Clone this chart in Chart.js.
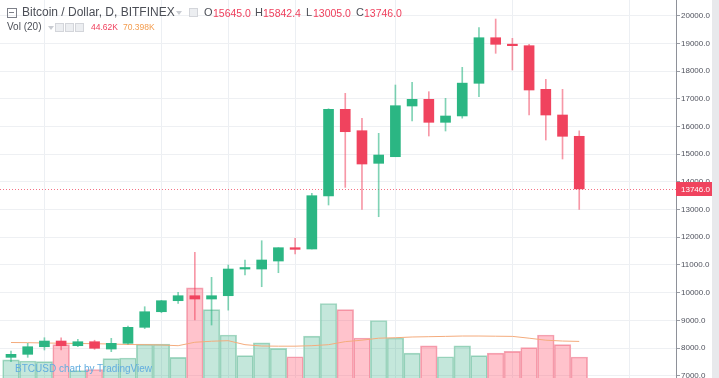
<!DOCTYPE html>
<html><head><meta charset="utf-8">
<script src="https://cdn.jsdelivr.net/npm/chart.js@4.4.1/dist/chart.umd.min.js"></script>
<style>
html,body{margin:0;padding:0;background:#fff;overflow:hidden;width:719px;height:378px}
#wrap{position:relative;width:719px;height:384px}
canvas{display:block}
.t{position:absolute;white-space:nowrap;font-family:"Liberation Sans",Arial,sans-serif;line-height:1}
.ic{position:absolute;width:7px;height:7px;border:1px solid #d3d5da;background:#eceef1}
.car{position:absolute;width:0;height:0;border-left:3px solid transparent;border-right:3px solid transparent;border-top:4px solid #c9ccd2}
</style></head><body>
<div id="wrap">
<canvas id="c" width="719" height="384"></canvas>
<div style="position:absolute;left:712px;top:0;width:7px;height:384px;background:#e8e9ec"></div>
<div style="position:absolute;left:7px;top:8px;width:8px;height:8px;border:1px solid #7d8089"></div>
<div style="position:absolute;left:9px;top:12px;width:5px;height:1px;background:#7d8089"></div>
<div class="t" style="left:22px;top:6px;font-size:12px;color:#4c4f57">Bitcoin / Dollar, D, BITFINEX</div>
<div class="car" style="left:176px;top:11px"></div>
<div class="ic" style="left:189px;top:8px"></div>
<div class="t" style="left:204px;top:7px;font-size:11px;color:#4c4f57">O</div>
<div class="t" id="vO" style="left:213px;top:7.5px;font-size:10.5px;color:#ef3f5c"></div>
<div class="t" style="left:255px;top:7px;font-size:11px;color:#4c4f57">H</div>
<div class="t" id="vH" style="left:263px;top:7.5px;font-size:10.5px;color:#ef3f5c"></div>
<div class="t" style="left:306px;top:7px;font-size:11px;color:#4c4f57">L</div>
<div class="t" id="vL" style="left:313px;top:7.5px;font-size:10.5px;color:#ef3f5c"></div>
<div class="t" style="left:356px;top:7px;font-size:11px;color:#4c4f57">C</div>
<div class="t" id="vC" style="left:364px;top:7.5px;font-size:10.5px;color:#ef3f5c"></div>
<div class="t" style="left:7px;top:22px;font-size:10px;color:#4c4f57">Vol (20)</div>
<div class="car" style="left:48px;top:26px"></div>
<div class="ic" style="left:55px;top:23px"></div>
<div class="ic" style="left:65px;top:23px"></div>
<div class="ic" style="left:75px;top:23px"></div>
<div class="t" id="vV" style="left:91px;top:23px;font-size:8.5px;color:#ef3f5c"></div>
<div class="t" id="vMA" style="left:123px;top:23px;font-size:8.5px;color:#f39c4e"></div>
<div class="t" style="left:15px;top:364px;font-size:10px;color:#62addf">BTCUSD chart by TradingView</div>
</div>
<script>
const dates = ['2017-11-18','2017-11-19','2017-11-20','2017-11-21','2017-11-22','2017-11-23','2017-11-24','2017-11-25','2017-11-26','2017-11-27','2017-11-28','2017-11-29','2017-11-30','2017-12-01','2017-12-02','2017-12-03','2017-12-04','2017-12-05','2017-12-06','2017-12-07','2017-12-08','2017-12-09','2017-12-10','2017-12-11','2017-12-12','2017-12-13','2017-12-14','2017-12-15','2017-12-16','2017-12-17','2017-12-18','2017-12-19','2017-12-20','2017-12-21','2017-12-22'];
const openP  = [7663,7772,8046,8252,8083,8227,7963,8169,8747,9310,9708,9888,9769,9888,10852,10852,11141,11622,11575,13489,16620,15847,14669,14908,16739,16981,16150,16380,17559,19205,18967,18917,17342,16414,15645.0];
const highP  = [7891,8169,8371,8371,8313,8280,8349,8794,9491,9720,10010,11455,10553,10997,11178,11874,11622,11960,13586,16640,17197,16295,15753,17497,17595,17256,17017,18136,19567,19880,19182,18967,17703,17342,15842.4];
const lowP   = [7504,7663,7928,7928,8046,7950,7867,8140,8700,9274,9614,9010,8830,9367,10636,10213,10719,11394,11575,13164,13800,13008,12741,14908,16197,15656,15836,16300,17075,18642,18040,16414,15511,14825,13005.0];
const closeP = [7772,8046,8252,8083,8227,7989,8169,8747,9310,9708,9888,9769,9888,10852,10880,11178,11622,11563,13500,16620,15811,14644,14969,16750,16981,16150,16378,17565,19205,18967,18917,17317,16414,15645,13746.0];
const volumeK = [40,38,37,65,22,24,42,43,66,66,44,159,123,81,47,68,59,45,79,133,123,76,105,76,51,63,45,63,47,51,54,60,81,65,44.62];
const volumeMA20K = [68.6,68.3,67.8,67.4,67.0,66.6,66.1,65.3,65.0,64.5,63.3,69.0,70.7,71.6,65.0,62.8,62.5,62.5,63.3,65.0,70.0,72.4,75.7,76.5,77.7,78.2,78.7,79.3,79.3,79.0,78.7,75.7,72.4,71.0,70.398];
const priceTicks = [7000,8000,9000,10000,11000,12000,13000,14000,15000,16000,17000,18000,19000,20000];
const timeGridDates = ['2017-11-20','2017-11-27','2017-12-01','2017-12-05','2017-12-11','2017-12-18','2017-12-25'];

const UP = '#2bb683', DOWN = '#f0435e';
const last = closeP.length - 1;
document.getElementById('vO').textContent = openP[last].toFixed(1);
document.getElementById('vH').textContent = highP[last].toFixed(1);
document.getElementById('vL').textContent = lowP[last].toFixed(1);
document.getElementById('vC').textContent = closeP[last].toFixed(1);
document.getElementById('vV').textContent = volumeK[last].toFixed(2) + 'K';
document.getElementById('vMA').textContent = volumeMA20K[last].toFixed(3) + 'K';

const day0 = Date.parse(dates[0]);
const gridIdx = timeGridDates.map(d => Math.round((Date.parse(d) - day0) / 86400000));
const isUp = closeP.map((c, i) => c >= openP[i]);

const bodies = dates.map((d, i) => ({x: i, y: [openP[i], closeP[i]]}));
const wicks = dates.map((d, i) => ({x: i, y: [lowP[i], highP[i]]}));
const vols = dates.map((d, i) => ({x: i, y: volumeK[i]}));
const mas = dates.map((d, i) => ({x: i, y: volumeMA20K[i]}));

const priceLine = {
  id: 'priceLine',
  beforeDatasetsDraw(chart) {
    const y = chart.scales.y.getPixelForValue(closeP[last]);
    const ctx = chart.ctx, a = chart.chartArea;
    ctx.save();
    ctx.strokeStyle = 'rgba(240,67,94,0.75)';
    ctx.lineWidth = 1;
    ctx.setLineDash([1, 2]);
    ctx.beginPath();
    ctx.moveTo(a.left, Math.round(y) + 0.5);
    ctx.lineTo(a.right, Math.round(y) + 0.5);
    ctx.stroke();
    ctx.restore();
  },
  afterDraw(chart) {
    const y = Math.round(chart.scales.y.getPixelForValue(closeP[last]));
    const ctx = chart.ctx, a = chart.chartArea;
    ctx.save();
    ctx.fillStyle = DOWN;
    ctx.fillRect(a.right, y - 7, 36, 14);
    ctx.fillStyle = '#fff';
    ctx.font = '8px "Liberation Sans", Arial, sans-serif';
    ctx.textBaseline = 'middle';
    ctx.fillText(closeP[last].toFixed(1), a.right + 5, y + 0.5);
    ctx.restore();
  }
};

new Chart(document.getElementById('c'), {
  type: 'bar',
  data: {
    datasets: [
      {type: 'bar', data: bodies, yAxisID: 'y', grouped: false, order: 0,
       backgroundColor: isUp.map(u => u ? UP : DOWN), borderWidth: 0,
       barThickness: 10, minBarLength: 1.5},
      {type: 'bar', data: wicks, yAxisID: 'y', grouped: false, order: 1,
       backgroundColor: isUp.map(u => u ? 'rgba(43,182,131,0.6)' : 'rgba(240,67,94,0.55)'), borderWidth: 0,
       barThickness: 1},
      {type: 'line', data: mas, yAxisID: 'yv', order: 2,
       borderColor: '#f4ab7c', borderWidth: 1, pointRadius: 0, tension: 0, fill: false},
      {type: 'bar', data: vols, yAxisID: 'yv', grouped: false, order: 3,
       backgroundColor: isUp.map(u => u ? 'rgba(38,166,122,0.27)' : 'rgba(255,82,110,0.35)'),
       borderColor: isUp.map(u => u ? '#a9d9c5' : '#f3a9b7'), borderWidth: 1,
       categoryPercentage: 1, barPercentage: 1}
    ]
  },
  options: {
    responsive: false, animation: false, devicePixelRatio: 1,
    layout: {padding: 0},
    plugins: {legend: {display: false}, tooltip: {enabled: false}},
    scales: {
      x: {type: 'linear', min: -0.658, max: 39.79, offset: false,
          afterBuildTicks: s => { s.ticks = gridIdx.map(v => ({value: v})); },
          ticks: {display: false}, border: {display: false},
          grid: {color: '#eceff3', drawTicks: false, offset: false}},
      y: {type: 'linear', position: 'right', min: 6700, max: 20567,
          afterBuildTicks: s => { s.ticks = priceTicks.map(v => ({value: v})); },
          afterFit: s => { s.width = 43; s.paddingTop = 0; s.paddingBottom = 0; },
          ticks: {autoSkip: false, padding: 1, color: '#50535e',
                  font: {family: '"Liberation Sans", Arial, sans-serif', size: 8},
                  callback: v => Number(v).toFixed(1)},
          grid: {color: '#eef0f3', tickColor: '#9a9da5', tickLength: 4},
          border: {color: '#8e9199', width: 1}},
      yv: {type: 'linear', display: false, min: 0, max: 634.7}
    }
  },
  plugins: [priceLine]
});
</script>
</body></html>
